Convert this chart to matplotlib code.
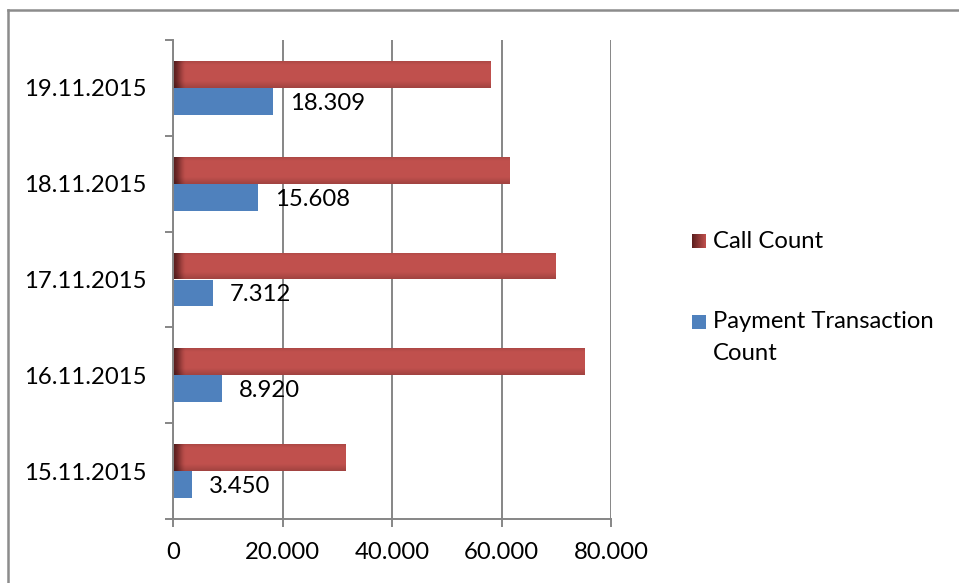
import numpy as np
import matplotlib
matplotlib.use("Agg")
import matplotlib.pyplot as plt
from matplotlib.lines import Line2D
from matplotlib.patches import Rectangle

plt.rcParams['font.family'] = ['Lato', 'DejaVu Sans']

dates = ['15.11.2015', '16.11.2015', '17.11.2015', '18.11.2015', '19.11.2015']
call_count = [31500, 75200, 69800, 61400, 58000]
payment_count = [3450, 8920, 7312, 15608, 18309]
x_ticks = [0, 20000, 40000, 60000, 80000]
series_names = ['Call Count', 'Payment Transaction\nCount']

W, H = 959, 583
FS = 17.2
GRID = '#868686'
RED = np.array([0.753, 0.314, 0.302])
DARK = np.array([0.36, 0.12, 0.12])
BLUE = '#4F81BD'


def fx(px):
    return px / W


def fy(py):
    return 1 - py / H


def thousands(v):
    return f"{int(v):,}".replace(',', '.')


fig = plt.figure(figsize=(W / 100, H / 100), dpi=100)
ax = fig.add_axes([fx(173), fy(519), (611 - 173) / W, (519 - 40) / H])

y = np.arange(len(dates))
off, bh = 0.14, 0.28

red_bars = ax.barh(y + off, call_count, height=bh, color=tuple(RED), zorder=2)
blue_bars = ax.barh(y - off, payment_count, height=bh, color=BLUE, zorder=2)

# gradient shading on red bars
for bar in red_bars:
    x0, y0 = bar.get_x(), bar.get_y()
    w, h = bar.get_width(), bar.get_height()
    nx, ny = 600, 40
    xs = np.linspace(0, w, nx)
    f = np.clip(xs / 2400.0, 0, 1)
    f = f * f * (3 - 2 * f)
    col = DARK[None, :] + (RED - DARK)[None, :] * f[:, None]
    v = np.linspace(0, 1, ny)
    mult = np.ones(ny)
    mult -= 0.10 * np.clip((0.12 - v) / 0.12, 0, 1)
    mult -= 0.16 * np.clip((v - 0.75) / 0.25, 0, 1)
    img = np.clip(col[None, :, :] * mult[:, None, None], 0, 1)
    im = ax.imshow(img, extent=(x0, x0 + w, y0, y0 + h), origin='upper',
                   aspect='auto', zorder=2.5, interpolation='bilinear')
    im.set_clip_path(bar)

for bar, v in zip(blue_bars, payment_count):
    ax.annotate(thousands(v), xy=(v, bar.get_y() + bar.get_height() / 2),
                xytext=(12, -1.5), textcoords='offset points',
                ha='left', va='center', fontsize=FS, color='black', zorder=3)

ax.set_xlim(0, 80000)
ax.set_ylim(-0.5, len(dates) - 0.5)
ax.set_xticks(x_ticks)
ax.set_xticklabels([thousands(t) for t in x_ticks])
ax.set_yticks(y)
ax.set_yticklabels(dates)
ax.set_yticks(np.arange(len(dates) + 1) - 0.5, minor=True)

ax.xaxis.grid(True, color=GRID, lw=1.4, zorder=0)
ax.set_axisbelow(True)
for s in ['top', 'right']:
    ax.spines[s].set_visible(False)
for s in ['left', 'bottom']:
    ax.spines[s].set_color(GRID)
    ax.spines[s].set_linewidth(1.4)

ax.tick_params(axis='x', length=5.8, width=1.4, color=GRID, pad=10.5,
               labelsize=FS, labelcolor='black')
ax.tick_params(axis='y', which='major', length=0, pad=19,
               labelsize=FS, labelcolor='black')
ax.tick_params(axis='y', which='minor', length=5.8, width=1.4, color=GRID)

# legend (manual layout to match reference)
lax = fig.add_axes([fx(692), fy(248), 14 / W, 14 / H])
grad = np.linspace(0, 1, 50)
gimg = DARK[None, None, :] + (RED - DARK)[None, None, :] * grad[None, :, None]
gimg = np.repeat(gimg, 10, axis=0)
lax.imshow(gimg, aspect='auto', extent=(0, 1, 0, 1))
lax.set_axis_off()
fig.text(fx(713), fy(241), series_names[0], fontsize=FS, va='center', ha='left')

fig.add_artist(Rectangle((fx(692), fy(329)), 14 / W, 14 / H,
                         transform=fig.transFigure, facecolor=BLUE,
                         edgecolor='none'))
fig.text(fx(713), fy(322), 'Payment Transaction', fontsize=FS,
         va='center', ha='left')
fig.text(fx(713), fy(353), 'Count', fontsize=FS, va='center', ha='left')

# outer frame
fig.add_artist(Line2D([fx(8), fx(8)], [0, fy(10)], transform=fig.transFigure,
                      color='#8c8c8c', lw=1.8))
fig.add_artist(Line2D([fx(8), 1], [fy(10), fy(10)], transform=fig.transFigure,
                      color='#8c8c8c', lw=1.8))

fig.savefig('out.png', dpi=100)
